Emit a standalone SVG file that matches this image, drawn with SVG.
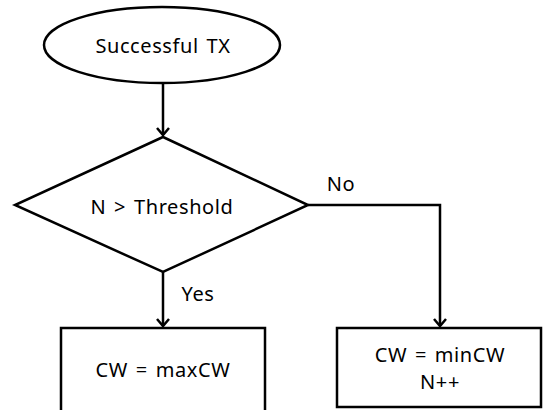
<svg xmlns="http://www.w3.org/2000/svg" width="544" height="410" viewBox="0 0 544 410">
<defs>
<style>
.shape{fill:#fff;stroke:#000;stroke-width:2.5}
.line{fill:none;stroke:#000;stroke-width:2.5}
text{font-family:"Noto Sans","Open Sans",sans-serif;font-size:20px;letter-spacing:0.6px;word-spacing:2px;fill:#000;text-anchor:middle}
</style>
<marker id="arr" markerWidth="14" markerHeight="14" refX="12" refY="7" orient="auto" markerUnits="userSpaceOnUse" viewBox="0 0 14 14">
<polyline points="5,1 12,7 5,13" fill="none" stroke="#000" stroke-width="2.5"/>
</marker>
</defs>
<rect width="544" height="410" fill="#fff"/>
<g id="connectors">
<line class="line" x1="163" y1="83" x2="163" y2="135" marker-end="url(#arr)"/>
<line class="line" x1="163" y1="272" x2="163" y2="326" marker-end="url(#arr)"/>
<polyline class="line" points="308,205 440,205 440,326" marker-end="url(#arr)"/>
<text x="341" y="191">No</text>
<text x="198" y="301">Yes</text>
</g>
<g id="start">
<ellipse class="shape" cx="162" cy="45" rx="118" ry="38"/>
<text x="163" y="53">Successful TX</text>
</g>
<g id="decision">
<polygon class="shape" points="163,137 308,205 163,272 15,205"/>
<text x="162" y="214">N &gt; Threshold</text>
</g>
<g id="maxcw">
<rect class="shape" x="61" y="328" width="204" height="90"/>
<text x="163" y="377">CW = maxCW</text>
</g>
<g id="mincw">
<rect class="shape" x="337" y="328" width="204" height="79"/>
<text x="440" y="362">CW = minCW</text>
<text x="440" y="389">N++</text>
</g>
</svg>
